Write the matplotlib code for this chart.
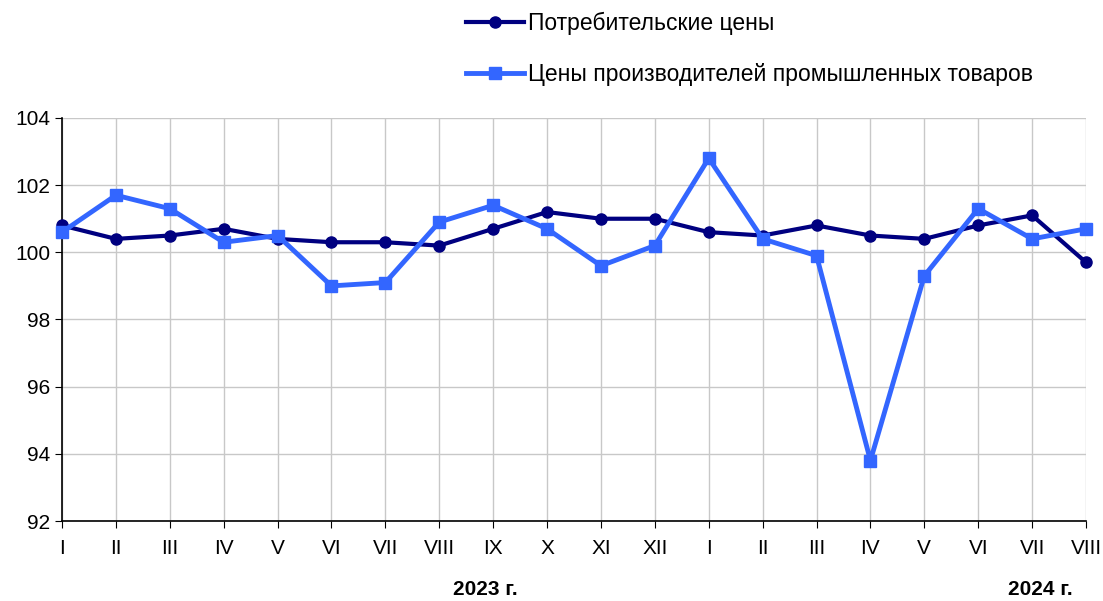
import matplotlib.pyplot as plt

months = ['I', 'II', 'III', 'IV', 'V', 'VI', 'VII', 'VIII', 'IX', 'X', 'XI', 'XII',
          'I', 'II', 'III', 'IV', 'V', 'VI', 'VII', 'VIII']
consumer = [100.8, 100.4, 100.5, 100.7, 100.4, 100.3, 100.3, 100.2, 100.7, 101.2,
            101.0, 101.0, 100.6, 100.5, 100.8, 100.5, 100.4, 100.8, 101.1, 99.7]
producer = [100.6, 101.7, 101.3, 100.3, 100.5, 99.0, 99.1, 100.9, 101.4, 100.7,
            99.6, 100.2, 102.8, 100.4, 99.9, 93.8, 99.3, 101.3, 100.4, 100.7]
years = ['2023 г.', '2024 г.']
year_pos = [7.85, 18.15]

plt.rcParams['font.family'] = ['Liberation Sans', 'DejaVu Sans']

fig = plt.figure(figsize=(11.03, 6.01), dpi=100)
ax = fig.add_axes([0.0562, 0.1331, 0.9284, 0.6706])

x = list(range(len(months)))
ax.plot(x, consumer, color='#000080', lw=3, marker='o', ms=8,
        label='Потребительские цены', clip_on=False, zorder=3)
ax.plot(x, producer, color='#3366FF', lw=3.5, marker='s', ms=9,
        label='Цены производителей промышленных товаров', clip_on=False, zorder=4)

ax.set_xlim(0, len(months) - 1)
ax.set_ylim(92, 104)
ax.set_yticks(range(92, 105, 2))
ax.set_xticks(x)
ax.set_xticklabels(months)
ax.tick_params(axis='both', labelsize=15, length=5, color='black')
ax.tick_params(axis='x', pad=8)
ax.grid(True, color='#c8c8c8', lw=1)
ax.set_axisbelow(True)
for s in ['top', 'right']:
    ax.spines[s].set_visible(False)
for s in ['left', 'bottom']:
    ax.spines[s].set_color('black')
    ax.spines[s].set_linewidth(1.2)

for yr, xp in zip(years, year_pos):
    ax.text(xp, -0.171, yr, transform=ax.get_xaxis_transform(), ha='center', va='center',
            fontsize=15, fontweight='bold')

fig.legend(loc='upper left', bbox_to_anchor=(0.404, 1.015), frameon=False, fontsize=16.5,
           handlelength=2.5, handletextpad=0.2, labelspacing=1.25)

fig.savefig('out.png', dpi=100)
